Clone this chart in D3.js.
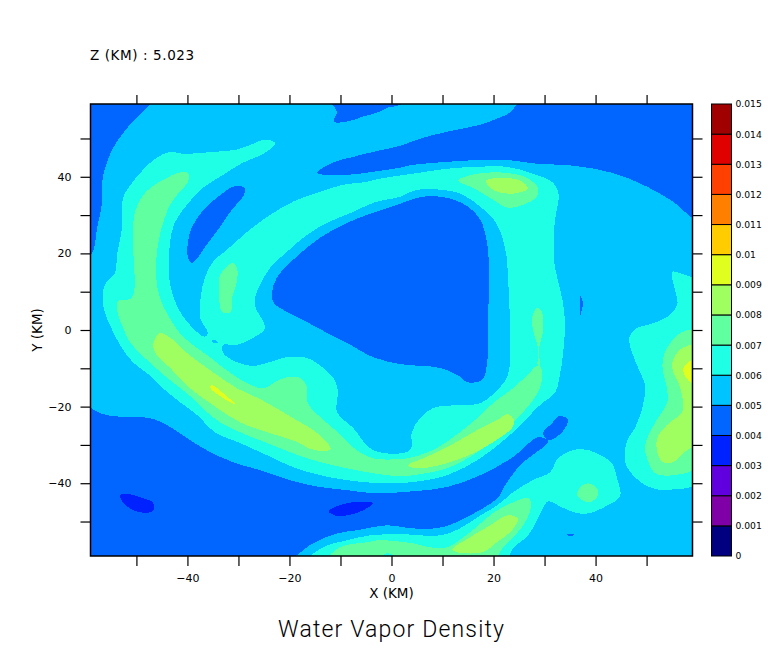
<!DOCTYPE html>
<html><head><meta charset="utf-8">
<script src="https://cdn.jsdelivr.net/npm/d3@7"></script>
<style>
html,body{margin:0;padding:0;background:#fff}
svg{display:block}
text{font-family:"DejaVu Sans",sans-serif;fill:#000}
</style></head><body>
<svg id="c" width="768" height="662"></svg>
<script>
// Value levels and colours
const levels = [0,0.001,0.002,0.003,0.004,0.005,0.006,0.007,0.008,0.009,0.01,0.011,0.012,0.013,0.014,0.015];
const bandColors = ["#000080","#8000A8","#6000DF","#0022FF","#0066FF","#00C4FF","#1EFFE6","#60FFA0","#A0FF60","#E0FF1E","#FFCC00","#FF8000","#FF4000","#E00000","#A00000"];
const xTicks = [-50,-40,-30,-20,-10,0,10,20,30,40,50];
const yTicks = [-50,-40,-30,-20,-10,0,10,20,30,40,50];
const labelledTicks = [-40,-20,0,20,40];
const xDomain = [-59,59];
const yDomain = [-59,59];

// Contour outlines, [X km, Y km]
const dry_topLeft = [[-59,59],[-47,59],[-51.3,53.6],[-54.2,48.4],[-55.8,43.7],[-56.6,39.7],[-56.8,32.7],[-57.7,26.7],[-58.7,20.1],[-59,19.3]];
const dry_topNotch = [[-12.1,59],[-10.7,57],[-11.3,54.4],[-8.7,54.4],[-5.6,55.7],[-2.3,57],[-0.9,58],[1.7,58.8],[2.5,59]];
const dry_topRight = [[25.8,59],[23.2,56.7],[20.7,55.2],[17.4,53.6],[12.8,52.3],[6.2,50.2],[1.7,48.1],[-3.6,46.5],[-7.5,45.2],[-11.5,43.7],[-14.6,41],[-8.7,40.5],[-3.6,41.3],[1.7,42.4],[4.2,43.1],[10.9,43.9],[17.4,44.4],[22.6,44.4],[28.5,43.4],[35.6,42.9],[43.4,41],[50.1,37.4],[55.2,33.5],[59,28.8],[59,59]];
const dry_leftOval = [[-28.7,37.1],[-31.1,37.4],[-33,35.8],[-35.2,33.5],[-37.2,30.8],[-39.1,26.9],[-39.9,23],[-39.9,19.1],[-39.1,17.5],[-36,22.7],[-33.6,26.9],[-31.3,31.4],[-29.1,34.8]];
const dry_bottomLeft = [[-59,-20.1],[-57.2,-21.7],[-54.6,-22.5],[-47.4,-23],[-44,-24.8],[-40.1,-28.2],[-36.2,-31.4],[-31.1,-34.5],[-25.8,-36.6],[-19.9,-39.2],[-14,-41],[-8.7,-41.8],[-3.6,-42.6],[4.2,-42.1],[10.9,-41],[17.4,-37.9],[23.8,-33.2],[28.7,-28],[30.7,-29],[25.2,-35.3],[22.3,-40.5],[20.9,-43.7],[15.4,-48.4],[9.9,-51.5],[4.2,-51.8],[-0.9,-51],[-6.8,-52.3],[-10.7,-53.1],[-15.4,-55.7],[-20.9,-59],[-59,-59]];
const dry_sliver = [[29.7,-26.9],[31.5,-24.3],[32.8,-22.5],[34.6,-23.3],[33.6,-26.4],[30.9,-28.8]];
const dry_speck = [[37,8.9],[37.5,7.1],[37,3.9]];
const dry_dash = [[34.4,-53.3],[35.8,-53.3],[35.8,-53.6],[34.4,-53.6]];
const driest_left = [[-53.2,-43.1],[-51.3,-42.9],[-48.7,-43.9],[-46.8,-45],[-46.8,-47.3],[-49.3,-47.6],[-51.3,-46.5],[-52.6,-45.2]];
const driest_mid = [[-12.3,-47.3],[-8.7,-45.2],[-3.6,-45.2],[-5.6,-47.1],[-8.7,-48.4],[-11.1,-48.4]];
const moist_arc = [[-22.8,48.9],[-24.8,49.7],[-27.2,48.6],[-30.3,47.1],[-35,46.5],[-40.9,46],[-43.4,46.5],[-46,45],[-48.7,41.8],[-50.7,38.7],[-52.6,34.5],[-52.8,26.7],[-53.8,19.6],[-54.2,14.9],[-56.2,11.8],[-56.6,7.3],[-55.8,3.1],[-55.2,1.3],[-53.2,-3.9],[-50.7,-8.4],[-47.4,-11.8],[-44.8,-15.2],[-41.5,-18.8],[-38.1,-22.2],[-34.6,-26.7],[-29.7,-29.5],[-24.4,-32.7],[-19.3,-35.8],[-14,-37.9],[-8.7,-39.2],[-2.3,-40],[4.2,-39.7],[10.9,-37.9],[17.4,-33.5],[23.8,-26.7],[29.1,-19.6],[32.1,-16.2],[33,-11.8],[33.6,-6.5],[34,1.3],[33.6,7.3],[32.5,13.6],[31.9,17.8],[31.9,26.7],[32.3,30.8],[32.8,35.3],[31.7,38.4],[27.2,41],[22.6,42.6],[16.8,42.6],[10.9,42.1],[4.2,40.8],[-2.3,39.5],[-4.8,38.7],[-9.5,37.9],[-14,36.1],[-19.3,33.5],[-24.4,29.5],[-28.3,25.6],[-32.3,20.9],[-35,17.8],[-36.6,13.6],[-37.4,8.4],[-37.5,3.1],[-36,-0.8],[-36.6,-1.8],[-39.5,1.3],[-41.9,5.8],[-43.4,11.8],[-43.6,17],[-43.4,23],[-42.5,28],[-40.1,32.7],[-37,37.1],[-33.6,40],[-29.1,43.7],[-25.4,45.8],[-22.8,48.4]];
const moist_right = [[55,15.2],[57,14.6],[59,12.3],[59,-39.5],[55.2,-41.6],[51.1,-41.3],[47.7,-38.4],[45.8,-34.5],[46.2,-28.8],[47.7,-25.6],[49.3,-19.6],[49.7,-14.4],[48.7,-11],[47.2,-6],[46.6,-2.1],[48.1,0.5],[50.1,1.3],[54,3.4],[56,6.5],[55.8,9.2],[55,13.6]];
const moist_bottom = [[-16.4,-59],[-13.4,-56.7],[-8.7,-54.9],[-4.2,-53.6],[1.7,-53.3],[9.5,-53.6],[13.4,-51.8],[17.4,-48.4],[20.7,-45.8],[23.8,-42.4],[27.7,-39.2],[31.1,-37.1],[32.6,-33.5],[35,-31.6],[37.4,-31.1],[40.3,-32.2],[43.2,-34.8],[44.2,-38.7],[44.8,-43.4],[42.3,-45.8],[38.9,-47.8],[36.4,-47.8],[33.4,-46.3],[30.7,-44.7],[29.7,-46.5],[28.7,-49.2],[26.8,-53.6],[23.8,-57],[22.3,-59]];
const ring_hole = [[-33,-3.9],[-30.3,-3.9],[-27.2,-2.1],[-24.8,0.5],[-26.8,6.5],[-26.4,9.9],[-23.8,16.2],[-20.5,20.4],[-16.6,24.8],[-12.6,28],[-7.5,30.8],[-3.6,33.2],[1.7,34.8],[5,36.6],[11.5,36.3],[14,35.3],[17.4,32.2],[20.7,27.5],[22.5,19.6],[22.8,14.4],[23.2,1.3],[22.8,-11.8],[20.7,-15.7],[17.4,-19.1],[12.8,-19.6],[8.1,-20.4],[5.6,-23],[4,-26.7],[3.6,-31.4],[-3.6,-31.4],[-7.5,-25.6],[-10.7,-21.4],[-10.5,-16.2],[-11.1,-13.1],[-13.4,-9.9],[-16.6,-7.3],[-20.5,-7.1],[-24.4,-8.6],[-27.2,-9.4],[-30.3,-8.4],[-33,-6]];
const ring_tinyHole = [[-35.2,-2.6],[-34.2,-2.9],[-34,-3.4],[-35,-3.4]];
const dry_triangle = [[-23.4,9.9],[-22.5,13.6],[-19.3,18.3],[-14,24.1],[-8.7,28],[-3.6,30.6],[1.1,32.7],[6.2,34.8],[10.9,34.5],[15,32.2],[17.4,28.8],[18.7,23],[19.1,16.2],[18.9,1.3],[18.7,-9.2],[17.7,-13.1],[14.8,-13.6],[13,-11.8],[9.5,-9.9],[1.7,-8.9],[-3.6,-7.1],[-8.7,-3.4],[-12.6,-0.8],[-16.6,2.1],[-20.5,4.7],[-23.2,7.3]];
const wet_longArc = [[-39.9,41],[-41.9,41],[-44,39.7],[-47,37.4],[-48.9,34.8],[-50.3,30.8],[-50.7,24.1],[-50.9,8.4],[-53.6,7.6],[-53.6,3.9],[-52.8,1.3],[-51.3,-3.1],[-46.8,-9.2],[-43.4,-13.1],[-40.1,-16.5],[-36.2,-21.4],[-33.6,-24.1],[-29.7,-26.7],[-24.4,-29.5],[-19.3,-32.2],[-14,-34.5],[-8.7,-36.1],[-3.6,-37.4],[1.7,-38.2],[4.2,-37.9],[10.9,-36.1],[17.4,-31.4],[23.8,-24.3],[27.7,-18.3],[29.3,-14.4],[29.3,-9.7],[28.5,-9.4],[26.6,-11.8],[23.8,-15.2],[19.9,-19.1],[16.8,-23],[13.4,-26.7],[8.9,-30.8],[4.2,-33.2],[1.7,-33.7],[-3.6,-33.5],[-6.8,-31.4],[-10.5,-26.7],[-14,-22.7],[-16.4,-19.1],[-16.6,-14.9],[-17.9,-12.5],[-20.5,-12.3],[-22.8,-13.6],[-25.2,-15.2],[-28.3,-13.9],[-32.3,-10.5],[-35.6,-7.1],[-38.9,-3.9],[-41.5,-0.8],[-43.8,3.9],[-45.4,8.4],[-46.2,15.2],[-45.4,24.8],[-43.4,32.7],[-41.5,36.1],[-39.9,38.7]];
const wet_ringRight = [[28.7,5.8],[29.5,4.7],[29.7,-0.5],[28.9,-4.7],[29,-9.4],[28.7,-9.4],[28.7,-4.7],[28.1,-1.8],[27.5,2.1],[27.9,4.7]];
const wet_ringLeft = [[-31.1,17.5],[-30.3,16.2],[-30.3,12.5],[-31.3,8.4],[-31.5,4.7],[-33.2,4.7],[-33.8,9.2],[-33.6,14.4],[-32.3,16.5]];
const wet_top = [[13,39],[16.8,40.8],[22.6,41],[26.6,39.7],[28.7,37.1],[28.5,34.8],[25.8,32.7],[22.8,31.9],[19.9,34],[16,37.1]];
const wet_right = [[56.6,-0.8],[59,-0.3],[59,-35.3],[55.2,-37.9],[51.7,-37.4],[50.1,-33.5],[49.7,-30.1],[51.7,-24.1],[54,-19.1],[54,-15.2],[53.2,-11],[53.2,-7.8],[54,-4.7]];
const wet_bottom = [[-12.6,-59],[-10.1,-56.7],[-4.8,-55.4],[-2.3,-54.9],[4.2,-55.7],[7.5,-56.7],[10.9,-56.7],[15.4,-52.8],[19.9,-47.8],[23.8,-45],[26.8,-43.9],[27.4,-45.2],[26.6,-49.2],[24.6,-53.1],[21.9,-56.7],[19.9,-59],[3,-59],[-0.9,-58.3],[-3.2,-59]];
const wet_spot = [[38.5,-40],[40.3,-41.3],[40.5,-43.1],[38.9,-45],[37.4,-44.4],[36.4,-43.1],[37,-41]];
const wetter_top = [[18.5,39],[21.9,39.7],[25.2,39],[26.8,36.9],[24.8,35.8],[22.8,35.6],[19.9,36.6]];
const wetter_left = [[-45.4,-0.8],[-42.8,-2.6],[-40.1,-6],[-35,-11],[-30.3,-15.2],[-25.4,-18.3],[-19.3,-23],[-14.6,-26.9],[-11.9,-31.1],[-15,-31.4],[-19.3,-28.8],[-24.4,-26.7],[-29.7,-24.1],[-35,-19.6],[-39.5,-15.2],[-43.4,-9.9],[-46.4,-5.8],[-46.6,-3.1]];
const wetter_arc = [[3.2,-35.3],[6.2,-33.5],[10.9,-30.6],[16,-26.7],[20.7,-23.5],[22.8,-22],[24,-23.5],[23.6,-25.6],[19.9,-29.3],[16,-32.2],[10.9,-34.8],[5,-36.1]];
const wetter_right = [[59,-4.2],[57,-4.7],[55.2,-7.8],[55.2,-11],[56.2,-13.6],[57.2,-19.1],[57,-21.4],[54,-24.8],[52.1,-28.2],[52.1,-31.9],[53.2,-34.5],[55.2,-34.5],[57.9,-31.4],[59,-29.5]];
const wetter_bottom = [[11.9,-57.3],[15.4,-54.1],[19.3,-51],[22.8,-48.4],[24.8,-49.2],[23.6,-52.3],[20.7,-55.4],[17.9,-58],[12.8,-58]];
const wettest_left = [[-35.2,-14.4],[-33,-16.5],[-30.7,-19.3],[-33,-17.8],[-35.6,-15]];
const wettest_right = [[59,-7.3],[58,-8.6],[57.2,-9.9],[57.6,-12.3],[59,-14.6]];

// Painter's order: [band index, outline]
const layers = [
 [4,dry_topLeft],[4,dry_topNotch],[4,dry_topRight],[4,dry_leftOval],[4,dry_bottomLeft],[4,dry_sliver],[4,dry_speck],[4,dry_dash],
 [3,driest_left],[3,driest_mid],
 [6,moist_arc],[6,moist_right],[6,moist_bottom],
 [5,ring_hole],[5,ring_tinyHole],[4,dry_triangle],
 [7,wet_longArc],[7,wet_ringRight],[7,wet_ringLeft],[7,wet_top],[7,wet_right],[7,wet_bottom],[7,wet_spot],
 [8,wetter_top],[8,wetter_left],[8,wetter_arc],[8,wetter_right],[8,wetter_bottom],
 [9,wettest_left],[9,wettest_right]
];

const plot = {l:90.5,r:692.5,t:104,b:556};
const svg = d3.select("#c");
svg.append("rect").attr("width",768).attr("height",662).attr("fill","#fff");
const x = d3.scaleLinear().domain(xDomain).range([plot.l,plot.r]);
const y = d3.scaleLinear().domain(yDomain).range([plot.b,plot.t]);
// Vertices on the plot edge go slightly past it so smoothing never rounds off the frame side of a region.
const past = v => Math.abs(v) >= 59 ? v * 1.02 : v;
const line = d3.line().x(d=>x(past(d[0]))).y(d=>y(past(d[1]))).curve(d3.curveCatmullRomClosed.alpha(0.5));

svg.append("clipPath").attr("id","pc").append("rect")
  .attr("x",plot.l).attr("y",plot.t).attr("width",plot.r-plot.l).attr("height",plot.b-plot.t);
const g = svg.append("g").attr("clip-path","url(#pc)");
g.append("rect").attr("x",plot.l).attr("y",plot.t).attr("width",plot.r-plot.l).attr("height",plot.b-plot.t).attr("fill",bandColors[5]);
g.selectAll("path").data(layers).join("path")
  .attr("d",d=>line(d[1])).attr("fill",d=>bandColors[d[0]]).attr("shape-rendering","crispEdges");

// Axes
const fmt = v => labelledTicks.includes(v) ? d3.format("d")(v) : "";
const styleAxis = s => {
  s.select(".domain").remove();
  s.selectAll("line").attr("stroke","#000").attr("stroke-width",1.2);
  s.selectAll("text").attr("font-size",11).attr("font-family",'"DejaVu Sans"').attr("fill","#000");
};
svg.append("g").attr("transform",`translate(0,${plot.b})`)
  .call(d3.axisBottom(x).tickValues(xTicks).tickSize(10).tickPadding(8).tickFormat(fmt)).call(styleAxis);
svg.append("g").attr("transform",`translate(0,${plot.t})`)
  .call(d3.axisTop(x).tickValues(xTicks).tickSize(9).tickFormat("")).call(styleAxis);
svg.append("g").attr("transform",`translate(${plot.l},0)`)
  .call(d3.axisLeft(y).tickValues(yTicks).tickSize(10).tickPadding(9).tickFormat(fmt)).call(styleAxis);
svg.append("g").attr("transform",`translate(${plot.r},0)`)
  .call(d3.axisRight(y).tickValues(yTicks).tickSize(10).tickFormat("")).call(styleAxis);
svg.append("rect").attr("x",plot.l).attr("y",plot.t).attr("width",plot.r-plot.l).attr("height",plot.b-plot.t)
  .attr("fill","none").attr("stroke","#000").attr("stroke-width",1.5);

// Colour bar
const cy = d3.scaleLinear().domain([levels[0],levels[levels.length-1]]).range([plot.b,plot.t]);
const cb = svg.append("g");
cb.selectAll("rect").data(bandColors).join("rect")
  .attr("x",711.5).attr("width",20)
  .attr("y",(d,i)=>cy(levels[i+1])).attr("height",(d,i)=>cy(levels[i])-cy(levels[i+1]))
  .attr("fill",d=>d).attr("stroke","#000").attr("stroke-width",1);
const cax = svg.append("g").attr("transform","translate(731.5,0)")
  .call(d3.axisRight(cy).tickValues(levels).tickSize(0).tickPadding(4).tickFormat(v=>String(+v.toFixed(3))));
cax.select(".domain").remove();
cax.selectAll("text").attr("font-size",9.2).attr("font-family",'"DejaVu Sans"').attr("fill","#000");

// Text
svg.append("text").attr("x",90).attr("y",60).attr("font-size",13.5).attr("letter-spacing",0.6).text("Z (KM) : 5.023");
svg.append("text").attr("x",391.5).attr("y",598).attr("text-anchor","middle").attr("font-size",13.5).text("X (KM)");
svg.append("text").attr("transform","translate(42,330) rotate(-90)").attr("text-anchor","middle").attr("font-size",13.5).text("Y (KM)");
svg.append("text").attr("x",278).attr("y",637).attr("textLength",226).attr("lengthAdjust","spacing")
  .attr("font-size",23).attr("font-weight",300)
  .style("font-family","Roboto").text("Water Vapor Density");
</script>
</body></html>
